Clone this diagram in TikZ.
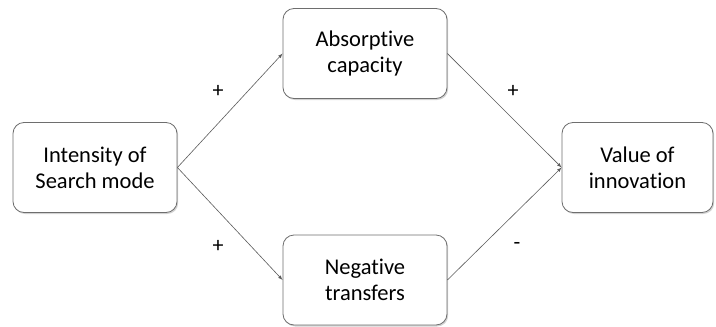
\documentclass[tikz,border=0pt]{standalone}
\usepackage{fontspec}
\setmainfont{Carlito}[RawFeature={-liga;-clig;-calt;-dlig;-rlig}]
\usetikzlibrary{arrows, shadows}

\definecolor{boxline}{RGB}{110,110,110}
\definecolor{pfeil}{RGB}{90,90,90}

\begin{document}
\begin{tikzpicture}[>=latex, x=1pt, y=1pt,
	kasten/.style={draw=boxline, line width=0.8pt, rounded corners=11pt, fill=white,
		drop shadow={shadow xshift=1.2pt, shadow yshift=-1.5pt, opacity=0.35},
		minimum width=164pt, minimum height=90pt, align=center,
		font=\fontsize{22.5}{26}\selectfont, inner sep=0pt},
	pfeilstil/.style={->, draw=pfeil, line width=0.6pt},
	zeichen/.style={font=\fontsize{22}{24}\selectfont, inner sep=0pt}]
	
	\useasboundingbox (0,0) rectangle (716,-327);
	
	% Kaesten
	\node[kasten](search) at (95,-167.5) {Intensity of\\Search mode};
	\node[kasten](absorb) at (365,-53.5) {Absorptive\\capacity};
	\node[kasten](neg) at (365,-280) {Negative\\transfers};
	\node[kasten, minimum width=151pt](value) at (637.5,-167.5) {Value of\\innovation};
	
	% Vorzeichen
	\node[zeichen](p1) at (218,-91) {+};
	\node[zeichen](p2) at (218,-246) {+};
	\node[zeichen](p3) at (513,-91) {+};
	\node[zeichen](m1) at (517,-246) {-};
	
	% Pfeile
	\draw[pfeilstil](search.east) -- (absorb.west);
	\draw[pfeilstil](search.east) -- (neg.west);
	\draw[pfeilstil](absorb.east) -- (value.west);
	\draw[pfeilstil](neg.east) -- (value.west);
\end{tikzpicture}
\end{document}
